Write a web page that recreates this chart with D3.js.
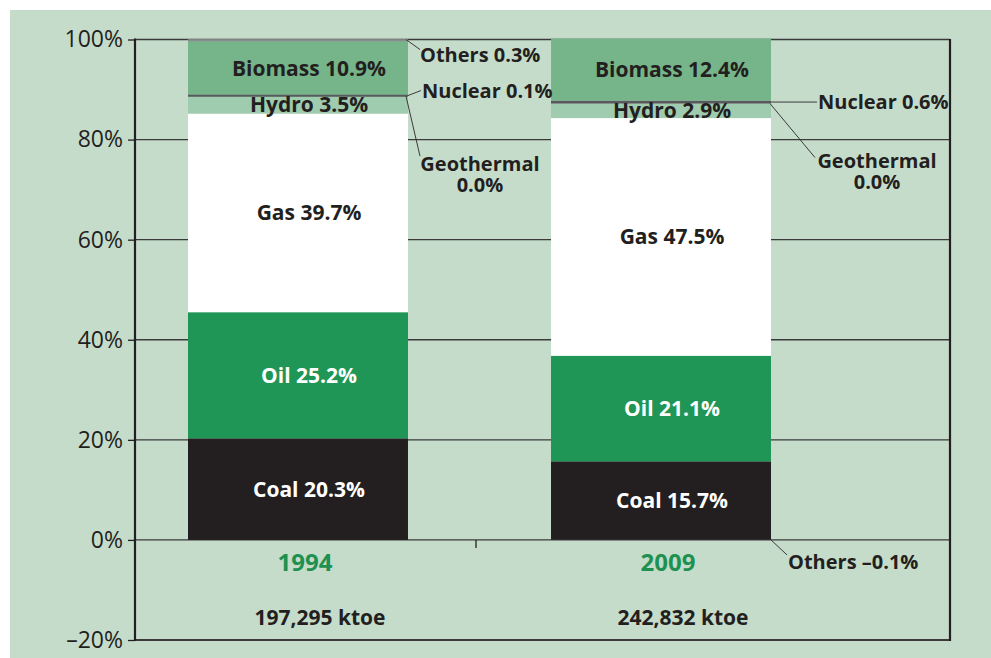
<!DOCTYPE html>
<html>
<head>
<meta charset="utf-8">
<script src="https://cdn.jsdelivr.net/npm/d3@7"></script>
<style>
  body { margin: 0; background: #fff; }
  #chart { width: 991px; height: 658px; }
  text { font-family: "Open Sans", sans-serif; }
</style>
</head>
<body>
<div id="chart"></div>
<script>
// data
const years = ["1994", "2009"];
const totals = ["197,295 ktoe", "242,832 ktoe"];
const sources = ["Coal", "Oil", "Gas", "Hydro", "Geothermal", "Nuclear", "Biomass", "Others"];
const share1994 = [20.3, 25.2, 39.7, 3.5, 0.0, 0.1, 10.9, 0.3];
const share2009 = [15.7, 21.1, 47.5, 2.9, 0.0, 0.6, 12.4, -0.1];
const yTicks = [-20, 0, 20, 40, 60, 80, 100];

const colors = {
    Coal: "#231f20", Oil: "#1f9656", Gas: "#ffffff", Hydro: "#9fcbae",
    Geothermal: "#9fcbae", Nuclear: "#58595b", Biomass: "#76b58a", Others: "#8a8c8e"
};
const inkColor = { Coal: "#fff", Oil: "#fff", Gas: "#231f20", Hydro: "#231f20", Biomass: "#231f20" };

const width = 991, height = 658;
const plot = { left: 135, right: 950, top: 39.5, bottom: 640 };

const svg = d3.select("#chart").append("svg")
    .attr("width", width)
    .attr("height", height);

// pale green panel
svg.append("rect")
    .attr("x", 10).attr("y", 10)
    .attr("width", width - 10).attr("height", height - 10)
    .attr("fill", "#c5dccb");

const rows = years.map((y, i) => {
    const r = { year: y };
    sources.forEach((s, j) => r[s] = [share1994, share2009][i][j]);
    return r;
});

const stack = d3.stack().keys(sources).offset(d3.stackOffsetDiverging);
const series = stack(rows);

const xScale = d3.scaleBand()
    .domain(years)
    .range([plot.left, 824])
    .paddingInner(0.394)
    .paddingOuter(0.146);

const yScale = d3.scaleLinear()
    .domain([-20, 100])
    .range([plot.bottom, plot.top]);

// gridlines
svg.append("g")
    .selectAll("line")
    .data(yTicks)
    .join("line")
    .attr("x1", plot.left).attr("x2", plot.right)
    .attr("y1", d => yScale(d)).attr("y2", d => yScale(d))
    .attr("stroke", "#3a3a3a")
    .attr("stroke-width", d => d == -20 ? 2.2 : 1.3);

// right border
svg.append("line")
    .attr("x1", plot.right).attr("x2", plot.right)
    .attr("y1", plot.top - 0.6).attr("y2", plot.bottom + 1)
    .attr("stroke", "#231f20").attr("stroke-width", 2.2);

// stacked bars
const layer = svg.selectAll("g.layer")
    .data(series)
    .join("g")
    .attr("class", "layer")
    .attr("fill", d => colors[d.key]);

layer.selectAll("rect")
    .data(d => d)
    .join("rect")
    .attr("x", d => xScale(d.data.year))
    .attr("y", d => yScale(d[1]))
    .attr("width", xScale.bandwidth())
    .attr("height", d => Math.max(yScale(d[0]) - yScale(d[1]), 0));

// thin slices drawn as lines so they show
function thinLine(key, year, color) {
    const d = series.find(s => s.key == key)[years.indexOf(year)];
    const y = yScale((d[0] + d[1]) / 2);
    svg.append("line")
        .attr("x1", xScale(year)).attr("x2", xScale(year) + xScale.bandwidth())
        .attr("y1", y).attr("y2", y)
        .attr("stroke", color).attr("stroke-width", 2);
}
thinLine("Nuclear", "1994", colors.Nuclear);
thinLine("Nuclear", "2009", colors.Nuclear);
thinLine("Others", "1994", colors.Others);

// y axis
const yAxis = svg.append("g")
    .attr("transform", `translate(${plot.left},0)`)
    .call(d3.axisLeft(yScale)
        .tickValues(yTicks)
        .tickSize(7)
        .tickFormat(d => (d < 0 ? "\u2013" : "") + Math.abs(d) + "%"));
yAxis.select(".domain").attr("stroke", "#231f20").attr("stroke-width", 2.2)
    .attr("d", `M0,${plot.top - 1}V${plot.bottom + 1}`);
yAxis.selectAll(".tick line").attr("stroke", "#231f20").attr("stroke-width", 1.3);
yAxis.selectAll(".tick text")
    .attr("x", -12)
    .attr("fill", "#231f20")
    .style("font-size", "23px")
    .style("font-family", "'Open Sans', sans-serif");

// middle tick on category axis
svg.append("line")
    .attr("x1", 476).attr("x2", 476)
    .attr("y1", yScale(0)).attr("y2", yScale(0) + 8)
    .attr("stroke", "#231f20").attr("stroke-width", 1.3);

// labels inside the bars
series.filter(s => inkColor[s.key]).forEach(s => {
    s.forEach(d => {
        const v = d.data[s.key];
        svg.append("text")
            .attr("x", xScale(d.data.year) + xScale.bandwidth() / 2 + 11)
            .attr("y", yScale((d[0] + d[1]) / 2))
            .attr("dy", "0.36em")
            .attr("text-anchor", "middle")
            .attr("fill", inkColor[s.key])
            .style("font-size", "21px")
            .style("font-weight", 700)
            .text(`${s.key} ${v.toFixed(1)}%`);
    });
});

// year and total labels
years.forEach((y, i) => {
    const cx = xScale(y) + xScale.bandwidth() / 2;
    svg.append("text")
        .attr("x", cx + 7).attr("y", 571)
        .attr("text-anchor", "middle")
        .attr("fill", "#1e9150")
        .style("font-size", "24px").style("font-weight", 700)
        .text(y);
    svg.append("text")
        .attr("x", cx + 22).attr("y", 625)
        .attr("text-anchor", "middle")
        .attr("fill", "#231f20")
        .style("font-size", "21px").style("font-weight", 700)
        .text(totals[i]);
});

// callouts for the thin slices
const fmt = v => (v < 0 ? "\u2013" : "") + Math.abs(v).toFixed(1) + "%";
function seg(year, key) {
    const i = years.indexOf(year);
    const d = series.find(s => s.key == key)[i];
    // zero slices sit on the top of the slice below them
    const below = series[sources.indexOf(key) - 1][i];
    const y1 = d[0] == d[1] ? below[1] : d[1];
    return { x: xScale(year) + xScale.bandwidth(), v: d.data[key], y0: d[0], y1: y1 };
}
function callout(x1, y1, x2, y2) {
    svg.append("line")
        .attr("x1", x1).attr("y1", y1).attr("x2", x2).attr("y2", y2)
        .attr("stroke", "#3a3a3a").attr("stroke-width", 1);
}
function note(x, y, lines, anchor) {
    lines.forEach((l, i) => svg.append("text")
        .attr("x", x).attr("y", y + i * 21)
        .attr("text-anchor", anchor || "start")
        .attr("fill", "#231f20")
        .style("font-size", "20px").style("font-weight", 700)
        .text(l));
}

let o = seg("1994", "Others");
callout(o.x - 2, yScale(o.y1), o.x + 12, yScale(o.y1) + 10);
note(o.x + 12, 62, [`Others ${fmt(o.v)}`]);

o = seg("1994", "Nuclear");
callout(o.x, yScale(o.y1), o.x + 13, yScale(o.y1) - 5);
note(o.x + 14, 98, [`Nuclear ${fmt(o.v)}`]);

o = seg("1994", "Geothermal");
callout(o.x - 2, yScale(o.y1), o.x + 12, yScale(o.y1) + 60);
note(o.x + 72, 171, ["Geothermal", fmt(o.v)], "middle");

o = seg("2009", "Nuclear");
callout(o.x, yScale((o.y0 + o.y1) / 2), o.x + 46, yScale((o.y0 + o.y1) / 2));
note(o.x + 47, 109, [`Nuclear ${fmt(o.v)}`]);

o = seg("2009", "Geothermal");
callout(o.x - 1, yScale(o.y1), o.x + 44, yScale(o.y1) + 54);
note(o.x + 106, 168, ["Geothermal", fmt(o.v)], "middle");

o = seg("2009", "Others");
callout(o.x, yScale(0), o.x + 16, yScale(0) + 15);
note(o.x + 17, 569, [`Others ${fmt(o.v)}`]);
</script>
</body>
</html>
